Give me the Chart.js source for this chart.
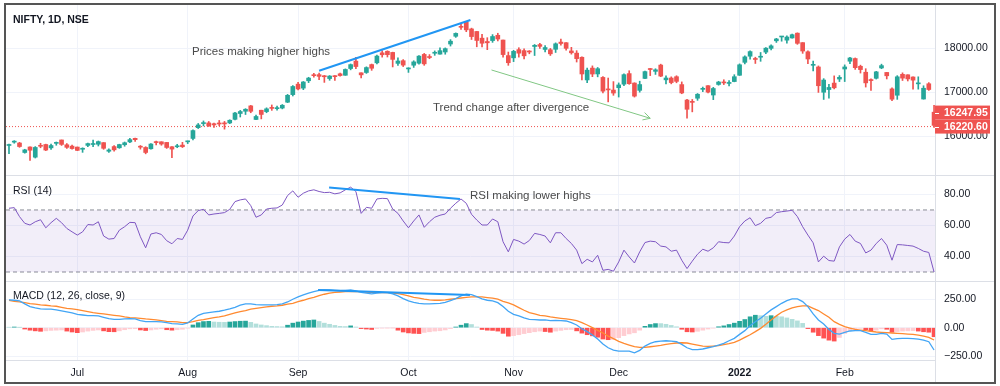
<!DOCTYPE html>
<html>
<head>
<meta charset="utf-8">
<title>NIFTY 1D - RSI / MACD divergence</title>
<script src="https://cdn.jsdelivr.net/npm/chart.js@4.4.1/dist/chart.umd.min.js"></script>
<style>
  body { margin: 0; width: 1000px; height: 386px; background: #fff; position: relative; overflow: hidden;
         font-family: "Liberation Sans", Arial, sans-serif; }
  #frame { position: absolute; left: 4px; top: 3px; width: 988px; height: 377px; border: 2px solid #555; }
  canvas { position: absolute; left: 6px; }
  .sep { position: absolute; background: #dcdfe6; }
  .lbl { position: absolute; white-space: nowrap; line-height: 1; }
  .pane { color: #131722; font-size: 10.5px; }
  .note { color: #4a4a4a; font-size: 11.5px; }
</style>
</head>
<body>
<div id="frame"></div>
<canvas id="priceChart" width="988" height="170" style="top:5px"></canvas>
<canvas id="rsiChart" width="988" height="105" style="top:176px"></canvas>
<canvas id="macdChart" width="988" height="100" style="top:282px"></canvas>
<div class="sep" style="left:6px;top:175px;width:988px;height:1px"></div>
<div class="sep" style="left:6px;top:281px;width:988px;height:1px"></div>
<div class="sep" style="left:935px;top:360px;width:1px;height:22px"></div>

<div class="lbl pane" style="left:13px;top:14px;font-weight:bold">NIFTY, 1D, NSE</div>
<div class="lbl note" style="left:192px;top:46px">Prices making higher highs</div>
<div class="lbl note" style="left:433px;top:102px">Trend change after divergence</div>
<div class="lbl pane" style="left:13px;top:185px">RSI (14)</div>
<div class="lbl note" style="left:470px;top:190px">RSI making lower highs</div>
<div class="lbl pane" style="left:13px;top:290px">MACD (12, 26, close, 9)</div>

<script>
// bar index of the first candle (Jul 1 2021 = 0)
const firstBar = -13;
const xMin = -13.57, xMax = 163.18;

const monthTickIdx = [0, 21, 42, 63, 83, 103, 126, 146];
const monthTickLabels = ['Jul', 'Aug', 'Sep', 'Oct', 'Nov', 'Dec', '2022', 'Feb'];
const priceTicks = [16000, 17000, 18000];
const rsiTicks = [40, 60, 80];
const macdTicks = [-250, 0, 250];
const rsiBands = [70, 30];
const lastPriceLabels = [16247.95, 16220.60];

const opens = [
  15791, 15867, 15847, 15632, 15757, 15525, 15783, 15813, 15737, 15839, 15916, 15807, 15776,
  15755, 15705, 15793, 15813, 15819, 15856, 15660, 15766, 15739, 15808, 15872, 15954, 15754, 15746, 15716, 15877, 15875, 15860, 15762, 15762, 15800,
  15874, 15951, 16196, 16288, 16304, 16286, 16300, 16303, 16303, 16385, 16518, 16569, 16691, 16382, 16592, 16561, 16654, 16628, 16642, 16775, 16947,
  17185, 17095, 17262, 17400, 17401, 17375, 17312, 17363, 17420, 17387, 17540, 17709, 17443, 17450, 17630, 17670, 17897, 17932, 17906, 17657, 17718,
  17531, 17615, 17661, 17861, 17810, 17887, 17867, 17916, 18097, 18273, 18500, 18602, 18440, 18382, 18230, 18154, 18175, 18296, 18188, 17834,
  17783, 17970, 17947, 17936, 18041, 18084, 17974, 17967, 17977, 18141, 18127, 17940, 17890, 17796, 17281, 17550, 17417, 17338, 17056, 17051,
  17104, 17184, 17425, 17210, 17044, 17315, 17524, 17476, 17619, 17283, 17324, 17354, 17175, 16824, 16774, 16865, 17067, 17150, 16938, 17178, 17220, 17201, 17244,
  17387, 17681, 17820, 17768, 17797, 17913, 17998, 18170, 18257, 18185, 18235, 18344, 18129, 17921, 17613, 17575, 17001, 17062, 17209, 17301,
  17529, 17706, 17767, 17591, 17456, 17279, 17318, 17553, 17451, 17077, 16933, 17408, 17398, 17348, 17192, 16847, 17194, 16548
];
const highs = [
  15823, 15901, 15862, 15705, 15761, 15766, 15841, 15821, 15821, 15870, 15916, 15835, 15801,
  15756, 15738, 15845, 15915, 15893, 15856, 15712, 15787, 15820, 15870, 15952, 15962, 15790, 15763, 15834, 15890, 15875, 15860, 15767, 15818, 15863,
  15892, 16147, 16291, 16349, 16336, 16300, 16360, 16338, 16375, 16544, 16589, 16628, 16702, 16480, 16593, 16647, 16712, 16684, 16722, 16952, 17153,
  17226, 17245, 17341, 17430, 17436, 17383, 17380, 17378, 17438, 17532, 17644, 17792, 17443, 17579, 17642, 17843, 17947, 17943, 17912, 17781, 17743,
  17557, 17717, 17833, 17884, 17857, 17941, 18008, 18009, 18197, 18350, 18543, 18604, 18458, 18384, 18315, 18241, 18311, 18342, 18189, 17915,
  17954, 18013, 17988, 17947, 18087, 18112, 18061, 17997, 18123, 18210, 18132, 18022, 17946, 17806, 17553, 17600, 17564, 17355, 17324, 17243,
  17213, 17420, 17490, 17216, 17252, 17484, 17543, 17535, 17639, 17376, 17351, 17376, 17236, 16840, 16837, 16972, 17119, 17155, 17112, 17250, 17285, 17264, 17400,
  17646, 17827, 17944, 17797, 17905, 18018, 18081, 18227, 18272, 18286, 18322, 18351, 18129, 17944, 17707, 17599, 17310, 17182, 17373, 17380,
  17623, 17794, 17781, 17617, 17536, 17306, 17477, 17639, 17454, 17099, 17378, 17442, 17398, 17351, 17352, 17148, 17220, 16705
];
const lows = [
  15606, 15842, 15749, 15616, 15450, 15506, 15739, 15674, 15702, 15796, 15792, 15724, 15706,
  15673, 15635, 15762, 15762, 15779, 15704, 15632, 15660, 15726, 15774, 15855, 15881, 15708, 15601, 15708, 15806, 15796, 15724, 15513, 15740, 15744,
  15834, 15915, 16176, 16236, 16223, 16200, 16238, 16162, 16286, 16374, 16438, 16495, 16535, 16376, 16395, 16535, 16589, 16592, 16623, 16765, 16916,
  17055, 17060, 17220, 17346, 17287, 17225, 17273, 17269, 17367, 17386, 17510, 17537, 17326, 17429, 17499, 17646, 17799, 17802, 17576, 17608, 17585,
  17452, 17565, 17640, 17613, 17763, 17840, 17865, 17865, 18051, 18248, 18431, 18377, 18200, 18034, 18034, 17968, 18135, 18167, 17799, 17613,
  17697, 17799, 17757, 17875, 17836, 17999, 17915, 17837, 17905, 18071, 17958, 17867, 17688, 17280, 17216, 17355, 17351, 16986, 16782, 16931,
  16892, 17150, 17181, 16891, 17003, 17308, 17379, 17406, 17355, 17192, 17192, 17216, 16967, 16410, 16555, 16817, 17015, 16983, 16833, 17161, 17175, 17147, 17238,
  17383, 17645, 17750, 17655, 17704, 17879, 17964, 18133, 18161, 18119, 18228, 18090, 17885, 17648, 17485, 16997, 16837, 16866, 17077, 17244,
  17244, 17653, 17520, 17437, 17119, 17044, 17301, 17536, 17303, 16810, 16839, 17268, 17257, 17071, 17071, 16844, 17043, 16203
];
const closes = [
  15811, 15869, 15767, 15691, 15683, 15746, 15773, 15687, 15790, 15860, 15815, 15749, 15721,
  15680, 15722, 15834, 15818, 15879, 15727, 15689, 15692, 15812, 15853, 15924, 15923, 15752, 15632, 15824, 15856, 15824, 15746, 15709, 15778, 15763,
  15885, 16130, 16258, 16295, 16238, 16258, 16280, 16282, 16364, 16529, 16563, 16614, 16568, 16450, 16496, 16624, 16634, 16636, 16705, 16931, 17132,
  17076, 17234, 17323, 17377, 17362, 17353, 17369, 17355, 17380, 17519, 17629, 17585, 17396, 17562, 17546, 17823, 17853, 17855, 17748, 17711, 17618,
  17532, 17691, 17822, 17646, 17790, 17895, 17946, 17992, 18161, 18339, 18477, 18419, 18266, 18178, 18115, 18125, 18268, 18211, 17857, 17672,
  17930, 17889, 17829, 17916, 18068, 18044, 18017, 17874, 18102, 18109, 17999, 17898, 17765, 17416, 17503, 17415, 17536, 17026, 17054, 16983,
  17167, 17401, 17196, 16913, 17176, 17470, 17517, 17511, 17368, 17325, 17221, 17248, 16985, 16614, 16771, 16955, 17072, 17003, 17086, 17233, 17213, 17204, 17354,
  17625, 17805, 17925, 17746, 17812, 18003, 18055, 18212, 18258, 18256, 18309, 18113, 17938, 17757, 17617, 17149, 17278, 17110, 17102, 17340,
  17576, 17780, 17560, 17516, 17214, 17266, 17464, 17606, 17375, 16843, 17352, 17322, 17304, 17276, 17207, 17092, 17063, 16248
];

const rsiValues = [
  71.1, 71.5, 65.7, 61.4, 60.3, 62.4, 63.7, 58.5, 61.8, 64.6, 61.8, 58.1, 55.9,
  53.8, 55.9, 60.6, 60.3, 62.4, 53.2, 51.2, 51.6, 57.0, 59.2, 62.0, 61.8, 52.7, 45.6, 54.5, 55.3, 54.2, 50.2, 48.2, 51.6, 51.0,
  57.0, 66.1, 69.6, 70.4, 66.8, 67.4, 67.8, 68.3, 70.4, 75.4, 76.5, 77.1, 72.8, 65.3, 66.8, 70.6, 71.1, 71.3, 73.2, 79.3, 82.3,
  78.2, 80.8, 82.3, 83.0, 81.9, 81.2, 81.4, 80.4, 81.0, 83.0, 84.7, 81.9, 67.8, 71.7, 71.1, 77.1, 77.5, 77.3, 70.6, 67.8, 62.9,
  58.5, 62.9, 66.8, 58.8, 62.4, 65.3, 66.6, 67.4, 71.1, 74.3, 77.1, 74.3, 67.2, 63.5, 60.3, 60.3, 64.2, 62.4, 49.5, 43.0,
  51.0, 49.9, 48.0, 50.3, 54.9, 54.2, 53.2, 48.8, 55.3, 55.3, 51.6, 48.4, 44.1, 35.4, 38.2, 36.5, 40.8, 31.1, 31.7, 30.5,
  36.5, 44.1, 39.7, 35.8, 43.0, 49.0, 49.9, 49.5, 46.7, 46.2, 43.4, 44.1, 37.6, 32.2, 37.0, 41.5, 44.7, 43.4, 45.6, 49.5, 49.0, 48.8, 53.2,
  59.2, 62.9, 65.0, 59.9, 61.4, 64.6, 65.3, 68.3, 68.9, 69.3, 69.8, 65.7, 59.2, 53.8, 48.8, 36.5, 40.2, 37.4, 37.0, 46.2,
  51.2, 54.2, 49.9, 48.4, 42.3, 44.1, 48.4, 51.6, 47.3, 37.6, 47.7, 47.5, 47.1, 46.7, 45.2, 43.4, 42.6, 30.0
];

const macdValues = [
  245, 242, 236, 210, 186, 175, 166, 163, 163, 157, 148, 139, 130,
  118, 112, 106, 106, 104, 92, 80, 74, 74, 77, 80, 77, 62, 53, 53, 53, 51, 45, 36, 33, 30,
  42, 77, 109, 127, 133, 139, 145, 154, 166, 180, 198, 210, 210, 204, 201, 201, 201, 204, 210, 227, 251,
  271, 289, 304, 318, 330, 333, 333, 330, 327, 330, 333, 324, 312, 304, 298, 304, 309, 309, 298, 280, 257,
  236, 224, 215, 210, 210, 212, 215, 224, 239, 257, 280, 295, 292, 274, 254, 242, 236, 221, 186, 145,
  118, 104, 86, 74, 71, 68, 68, 62, 65, 62, 59, 45, 24, -9, -35, -65, -100, -144, -177, -197,
  -206, -206, -206, -221, -200, -162, -138, -124, -118, -115, -118, -124, -147, -177, -194, -194, -188, -177, -168, -153, -138, -115, -94,
  -59, -26, 18, 53, 83, 121, 157, 186, 215, 239, 254, 254, 230, 186, 121, 68, 33, -15, -50, -56,
  -41, -29, -26, -26, -41, -59, -59, -50, -56, -103, -97, -94, -94, -97, -100, -109, -124, -197
];
const signalValues = [
  242, 233, 227, 221, 212, 207, 201, 198, 192, 189, 180, 171, 166,
  160, 151, 142, 133, 127, 121, 115, 109, 104, 95, 89, 86, 83, 77, 74, 68, 62, 56, 53, 51, 45,
  45, 53, 65, 71, 80, 89, 95, 104, 118, 130, 142, 151, 163, 171, 177, 183, 189, 192, 198, 207, 215,
  230, 242, 257, 268, 283, 295, 304, 312, 315, 318, 318, 318, 318, 315, 312, 309, 309, 309, 306, 301, 292,
  280, 268, 260, 251, 245, 242, 242, 245, 251, 257, 262, 268, 271, 271, 271, 265, 260, 251, 233, 218,
  201, 177, 154, 133, 121, 109, 104, 95, 89, 83, 77, 71, 62, 45, 24, 0, -24, -47, -74, -97,
  -121, -138, -153, -168, -174, -174, -168, -162, -156, -147, -141, -135, -133, -135, -144, -153, -162, -165, -162, -159, -150, -141, -130,
  -109, -85, -62, -35, -6, 30, 68, 104, 136, 157, 174, 186, 192, 192, 171, 151, 121, 92, 53, 30,
  9, -3, -15, -21, -26, -32, -38, -41, -44, -47, -50, -53, -56, -59, -65, -74, -85, -109
];
const histValues = [
  4, 6, 2, -12, -22, -28, -32, -28, -24, -22, -20, -30, -38,
  -44, -38, -30, -24, -20, -28, -35, -36, -28, -18, -10, -9, -20, -25, -20, -14, -10, -18, -22, -18, -14,
  -4, 24, 44, 54, 56, 50, 48, 47, 50, 54, 57, 58, 47, 33, 24, 18, 12, 10, 8, 22, 40,
  50, 58, 64, 68, 55, 40, 30, 20, 12, 10, 16, 6, -8, -12, -16, -6, -3, -2, -1, -22, -38,
  -46, -50, -52, -42, -36, -30, -27, -20, -8, 6, 22, 36, 28, 6, -16, -22, -24, -30, -50, -75,
  -70, -62, -52, -44, -36, -30, -34, -40, -30, -24, -18, -16, -28, -48, -62, -72, -84, -100, -106, -104,
  -88, -70, -55, -45, -22, 12, 28, 36, 36, 30, 20, 8, -14, -36, -38, -32, -22, -12, -4, 8, 16, 28, 40,
  56, 72, 96, 110, 106, 100, 106, 100, 96, 86, 74, 60, 38, -8, -40, -70, -92, -110, -118, -86,
  -50, -26, -12, -6, -18, -30, -22, -10, -14, -40, -34, -30, -28, -26, -30, -36, -40, -80
];

// hand-drawn annotations, in bar-index / value units
const priceTrend = [{ x: 46.0, y: 17491 }, { x: 74.8, y: 18643 }];
const trendArrow = [{ x: 78.8, y: 17507 }, { x: 109, y: 16409 }];
const rsiTrend = [{ x: 47.9, y: 84.5 }, { x: 72.8, y: 77.1 }];
const macdTrend = [{ x: 45.8, y: 333 }, { x: 74.7, y: 289 }];

const FONT = '"Liberation Sans", Arial, sans-serif';
const UP = '#26a69a', DOWN = '#ef5350';
Chart.defaults.font.family = FONT;
Chart.defaults.color = '#131722';

const barX = k => firstBar + k;
const candleColor = ctx => closes[ctx.dataIndex] >= opens[ctx.dataIndex] ? UP : DOWN;
const histColor = ctx => {
  const k = ctx.dataIndex, v = histValues[k], prev = k > 0 ? histValues[k - 1] : v;
  if (v >= 0) return v > prev ? '#26a69a' : '#b2dfdb';
  return v < prev ? '#ff5252' : '#ffcdd2';
};

function timeAxis(showLabels) {
  return {
    type: 'linear', min: xMin, max: xMax, offset: false,
    afterBuildTicks: s => { s.ticks = monthTickIdx.map(v => ({ value: v })); },
    afterFit: s => { s.height = showLabels ? 22 : 0; s.paddingLeft = 0; s.paddingRight = 0; },
    grid: { color: '#f0f3fa', drawTicks: false, offset: false },
    border: { display: showLabels, color: '#dcdfe6' },
    ticks: {
      display: showLabels, autoSkip: false, maxRotation: 0, padding: 7, color: '#131722',
      font: c => ({ family: FONT, size: 10.5, weight: c.tick && c.tick.value === 126 ? 'bold' : 'normal' }),
      callback: (v, i) => monthTickLabels[i]
    }
  };
}

function valueAxis(min, max, ticks, fmt) {
  return {
    position: 'right', min: min, max: max,
    afterBuildTicks: s => { s.ticks = ticks.map(v => ({ value: v })); },
    afterFit: s => { s.width = 59; s.paddingTop = 0; s.paddingBottom = 0; },
    grid: { color: '#f0f3fa', drawTicks: false },
    border: { color: '#dcdfe6' },
    ticks: { padding: 9, color: '#131722', font: { family: FONT, size: 10.5 }, callback: fmt }
  };
}

function baseOptions(yAxis, showTime) {
  return {
    responsive: false, animation: false, devicePixelRatio: 1, events: [],
    layout: { padding: 0 },
    plugins: { legend: { display: false }, tooltip: { enabled: false } },
    scales: { x: timeAxis(showTime), y: yAxis }
  };
}

function lineSet(points, color, width, extra) {
  return Object.assign({
    type: 'line', data: points, borderColor: color, borderWidth: width,
    pointRadius: 0, tension: 0, fill: false, clip: 0
  }, extra || {});
}

// little open arrow head on the end of the green trend arrow
const arrowHead = {
  id: 'arrowHead',
  afterDatasetsDraw(chart) {
    const meta = chart.getDatasetMeta(chart.data.datasets.findIndex(d => d.label === 'arrow'));
    const a = meta.data[0], b = meta.data[1], ctx = chart.ctx;
    const ang = Math.atan2(b.y - a.y, b.x - a.x);
    ctx.save();
    ctx.strokeStyle = '#81c784';
    ctx.lineWidth = 1;
    ctx.beginPath();
    ctx.moveTo(b.x - 8 * Math.cos(ang - 0.5), b.y - 8 * Math.sin(ang - 0.5));
    ctx.lineTo(b.x, b.y);
    ctx.lineTo(b.x - 8 * Math.cos(ang + 0.5), b.y - 8 * Math.sin(ang + 0.5));
    ctx.stroke();
    ctx.restore();
  }
};

// red last-price tags on the price scale
const priceTags = {
  id: 'priceTags',
  afterDraw(chart) {
    const y = chart.scales.y, area = chart.chartArea, ctx = chart.ctx;
    const yLive = y.getPixelForValue(lastPriceLabels[1]);
    const yClose = Math.min(y.getPixelForValue(lastPriceLabels[0]), yLive - 14);
    ctx.save();
    [[yClose, lastPriceLabels[0]], [yLive, lastPriceLabels[1]]].forEach(([py, v]) => {
      ctx.fillStyle = '#ef5350';
      ctx.fillRect(area.right, py - 7, 55, 14);
      ctx.strokeStyle = '#fff';
      ctx.lineWidth = 1;
      ctx.beginPath();
      ctx.moveTo(area.right, Math.round(py) + 0.5);
      ctx.lineTo(area.right + 4, Math.round(py) + 0.5);
      ctx.stroke();
      ctx.fillStyle = '#fff';
      ctx.font = 'bold 10.5px ' + FONT;
      ctx.textBaseline = 'middle';
      ctx.fillText(v.toFixed(2), area.right + 9, py + 0.5);
    });
    ctx.restore();
  }
};

// price pane
new Chart(document.getElementById('priceChart'), {
  type: 'bar',
  data: {
    datasets: [
      lineSet(priceTrend, '#2196f3', 2, { order: 0 }),
      lineSet(trendArrow, '#81c784', 1, { order: 0, label: 'arrow' }),
      {
        type: 'bar', order: 2, grouped: false, clip: 0,
        data: opens.map((o, k) => ({ x: barX(k), y: [o, closes[k]] })),
        backgroundColor: candleColor, borderWidth: 0, minBarLength: 1,
        barPercentage: 1, categoryPercentage: 1, maxBarThickness: 4
      },
      {
        type: 'bar', order: 3, grouped: false, clip: 0,
        data: lows.map((l, k) => ({ x: barX(k), y: [l, highs[k]] })),
        backgroundColor: candleColor, borderWidth: 0,
        barPercentage: 1, categoryPercentage: 1, maxBarThickness: 1
      },
      lineSet([{ x: xMin, y: lastPriceLabels[1] }, { x: xMax, y: lastPriceLabels[1] }], '#ef5350', 1,
        { order: 4, borderDash: [1, 2] })
    ]
  },
  options: baseOptions(valueAxis(15120, 18984, priceTicks, v => v.toFixed(2)), false),
  plugins: [arrowHead, priceTags]
});

// RSI pane
new Chart(document.getElementById('rsiChart'), {
  type: 'line',
  data: {
    datasets: [
      lineSet(rsiTrend, '#2196f3', 2, { order: 0 }),
      lineSet(rsiValues.map((v, k) => ({ x: barX(k), y: v })), '#7e57c2', 1, { order: 1 }),
      lineSet([{ x: xMin, y: rsiBands[0] }, { x: xMax, y: rsiBands[0] }], '#8a8d96', 1,
        { order: 3, borderDash: [4, 3], fill: { value: rsiBands[1] }, backgroundColor: 'rgba(126,87,194,0.1)' }),
      lineSet([{ x: xMin, y: rsiBands[1] }, { x: xMax, y: rsiBands[1] }], '#8a8d96', 1,
        { order: 3, borderDash: [4, 3] })
    ]
  },
  options: baseOptions(valueAxis(24.2, 91.9, rsiTicks, v => v.toFixed(2)), false)
});

// MACD pane with the time axis
new Chart(document.getElementById('macdChart'), {
  type: 'bar',
  data: {
    datasets: [
      lineSet(macdTrend, '#2196f3', 2, { order: 0 }),
      lineSet(macdValues.map((v, k) => ({ x: barX(k), y: v })), '#42a5f5', 1.3, { order: 1 }),
      lineSet(signalValues.map((v, k) => ({ x: barX(k), y: v })), '#ff8a30', 1.3, { order: 1 }),
      {
        type: 'bar', order: 3, grouped: false, clip: 0,
        data: histValues.map((v, k) => ({ x: barX(k), y: v })),
        backgroundColor: histColor, borderWidth: 0,
        barPercentage: 1, categoryPercentage: 1, maxBarThickness: 4
      }
    ]
  },
  options: baseOptions(valueAxis(-285, 403, macdTicks,
    v => (v < 0 ? '\u2212' : '') + Math.abs(v).toFixed(2)), true)
});
</script>
</body>
</html>
